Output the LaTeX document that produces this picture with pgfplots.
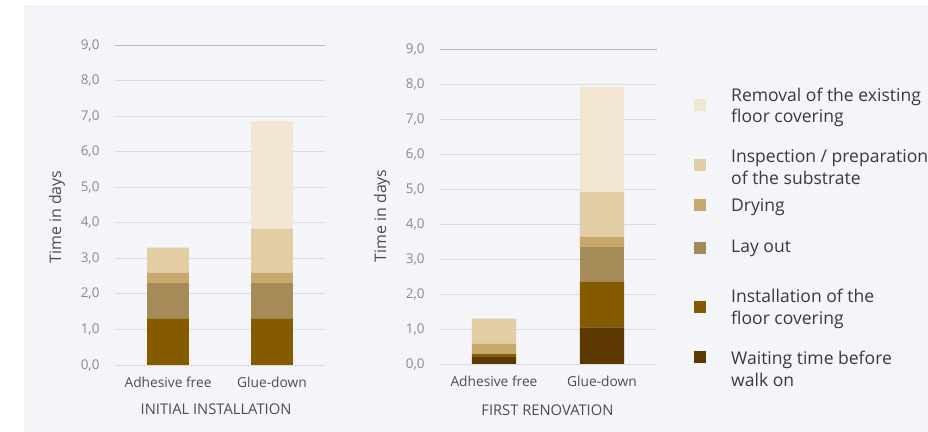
\documentclass[border=0pt]{standalone}
\usepackage{pgfplots}
\pgfplotsset{compat=1.18}
\usepackage{fontspec}
\setmainfont{Open Sans}

\definecolor{bg}{HTML}{F4F5F8}
\definecolor{gridc}{HTML}{DCDCDC}
\definecolor{tickc}{HTML}{8A8A8A}
\definecolor{labc}{HTML}{4D4D4D}
\definecolor{legc}{HTML}{3A3A3A}
\definecolor{cremoval}{HTML}{F2E6D3}
\definecolor{cinspect}{HTML}{E2CDA5}
\definecolor{cdrying}{HTML}{C9A96B}
\definecolor{clayout}{HTML}{A58B57}
\definecolor{cinstall}{HTML}{855B00}
\definecolor{cwait}{HTML}{5C3700}

% stacks, bottom to top: wait, install, layout, drying, inspect, removal
\pgfplotstableread{
x wait install layout drying inspect removal
0 0    1.3     1.0    0.3    0.7     0
1 0    1.3     1.0    0.3    1.23    3.02
}\initial
\pgfplotstableread{
x wait install layout drying inspect removal
0 0.2  0.08    0      0.3    0.72    0
1 1.05 1.3     1.0    0.28   1.28    3.0
}\renovation

\pgfplotsset{
  panel/.style={
    scale only axis,
    ybar stacked,
    ymin=0, ymax=9,
    ytick={0,1,...,9},
    xtick={0,1},
    xticklabels={Adhesive free, Glue-down},
    axis line style={draw=none},
    tick style={draw=none},
    ymajorgrids=true,
    grid style={gridc, line width=0.8pt},
    /pgf/number format/.cd, fixed, fixed zerofill, precision=1, use comma, assume math mode=true,
    /pgfplots/.cd,
    yticklabel style={text=tickc, font=\fontsize{13.5}{15}\selectfont, anchor=east, xshift=-12bp},
    xticklabel style={text=labc, font=\fontsize{13.8}{15}\selectfont, anchor=center, yshift=-17bp},
    ylabel style={text=labc, font=\fontsize{16}{18}\selectfont, anchor=center},
    xlabel style={text=labc, font=\fontsize{14.8}{16}\selectfont, anchor=center},
    every axis plot/.append style={draw=none},
  },
}

\begin{document}
\begin{tikzpicture}
\useasboundingbox (0,0) rectangle (928bp,432bp);
\fill[bg] (24bp,0) rectangle (928bp,427bp);

\begin{axis}[panel,
  at={(115bp,67bp)}, anchor=south west,
  width=210bp, height=320bp,
  xmin=-0.51, xmax=1.51, bar width=0.4,
  ylabel={Time in days},
  ylabel style={at={(axis description cs:-0.276,0.4625)}},
  xlabel={INITIAL INSTALLATION},
  xlabel style={at={(axis description cs:0.481,-0.1375)}},
]
\addplot[fill=cwait] table[x=x,y=wait] {\initial};
\addplot[fill=cinstall] table[x=x,y=install] {\initial};
\addplot[fill=clayout] table[x=x,y=layout] {\initial};
\addplot[fill=cdrying] table[x=x,y=drying] {\initial};
\addplot[fill=cinspect] table[x=x,y=inspect] {\initial};
\addplot[fill=cremoval] table[x=x,y=removal] {\initial};
\draw[color=black!28, line width=0.9pt] (axis cs:-0.51,9) -- (axis cs:1.51,9);
\draw[color=black!22, line width=0.9pt] (axis cs:-0.51,0) -- (axis cs:1.51,0);
\end{axis}

\begin{axis}[panel,
  at={(440bp,68bp)}, anchor=south west,
  width=217bp, height=315bp,
  xmin=-0.5, xmax=1.51, bar width=0.41,
  ylabel={Time in days},
  ylabel style={at={(axis description cs:-0.267,0.47)}},
  xlabel={FIRST RENOVATION},
  xlabel style={at={(axis description cs:0.495,-0.146)}},
]
\addplot[fill=cwait] table[x=x,y=wait] {\renovation};
\addplot[fill=cinstall] table[x=x,y=install] {\renovation};
\addplot[fill=clayout] table[x=x,y=layout] {\renovation};
\addplot[fill=cdrying] table[x=x,y=drying] {\renovation};
\addplot[fill=cinspect] table[x=x,y=inspect] {\renovation};
\addplot[fill=cremoval] table[x=x,y=removal] {\renovation};
\draw[color=black!28, line width=0.9pt] (axis cs:-0.5,9) -- (axis cs:1.51,9);
\draw[color=black!22, line width=0.9pt] (axis cs:-0.5,0) -- (axis cs:1.51,0);
\end{axis}

% legend
\begin{scope}[every node/.style={anchor=west, align=left, text=legc,
    font=\fontsize{17.6}{21.5}\selectfont, inner sep=0pt}]
\fill[cremoval] (693.5bp,321bp) rectangle +(12bp,12bp);
\node at (731bp,324.5bp) {Removal of the existing\\floor covering};
\fill[cinspect] (693.5bp,261bp) rectangle +(12bp,12bp);
\node at (731bp,265bp) {Inspection / preparation\\of the substrate};
\fill[cdrying] (693.5bp,221bp) rectangle +(12bp,12bp);
\node at (731bp,225bp) {Drying};
\fill[clayout] (693.5bp,178bp) rectangle +(12bp,12bp);
\node at (731bp,184bp) {Lay out};
\fill[cinstall] (693.5bp,119bp) rectangle +(12bp,12bp);
\node at (731bp,123bp) {Installation of the\\floor covering};
\fill[cwait] (693.5bp,69bp) rectangle +(12bp,12bp);
\node at (731bp,63bp) {Waiting time before\\walk on};
\end{scope}
\end{tikzpicture}
\end{document}
